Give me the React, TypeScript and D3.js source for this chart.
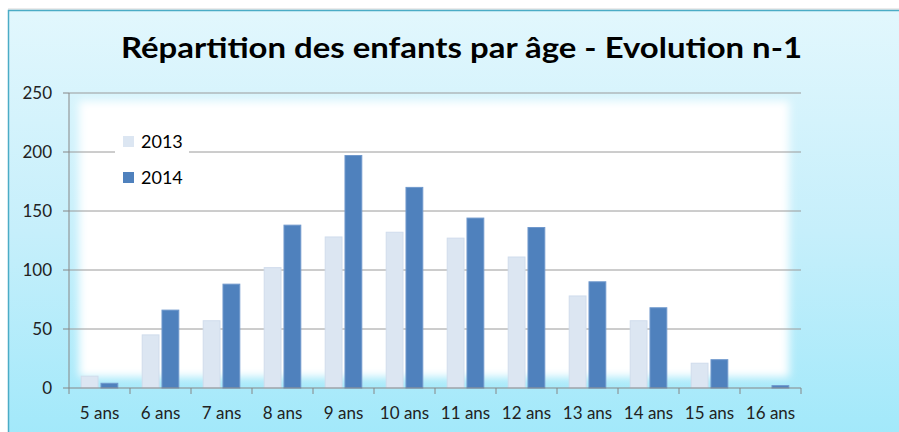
import React from "react";
import * as d3 from "d3";

const categories = ["5 ans", "6 ans", "7 ans", "8 ans", "9 ans", "10 ans", "11 ans", "12 ans", "13 ans", "14 ans", "15 ans", "16 ans"];
const seriesNames = ["2013", "2014"];
const values2013 = [10, 45, 57, 102, 128, 132, 127, 111, 78, 57, 21, 0];
const values2014 = [4, 66, 88, 138, 197, 170, 144, 136, 90, 68, 24, 2];
const yTicks = [0, 50, 100, 150, 200, 250];
const title = "Répartition des enfants par âge - Evolution n-1";

const colors = ["#dce6f2", "#4f81bd"];
const strokes = ["#d0dcec", "#6f98cc"];
const FONT = "Lato, 'Open Sans', sans-serif";

export default function App() {
  const W = 899, H = 432;
  const left = 69, right = 801, top = 93, bottom = 388;
  const x0 = d3.scaleBand<string>().domain(categories).range([left, right]).padding(0);
  const bw = x0.bandwidth();
  const inner = bw * 0.6;
  const x1 = d3.scaleBand<string>().domain(seriesNames).range([(bw - inner) / 2, (bw + inner) / 2]).paddingInner(0.15);
  const y = d3.scaleLinear().domain([0, 250]).range([bottom, top]);
  const data = [values2013, values2014];

  return (
    <svg width={W} height={H} style={{ position: "absolute", left: 0, top: 0, display: "block" }}>
      <defs>
        <linearGradient id="bg" x1="0" y1="0" x2="0" y2="1">
          <stop offset="0" stopColor="#e2f7fd" />
          <stop offset="0.5" stopColor="#c6effb" />
          <stop offset="1" stopColor="#9fe8fa" />
        </linearGradient>
        <filter id="blur" x="-10%" y="-10%" width="120%" height="120%">
          <feGaussianBlur stdDeviation="4" />
        </filter>
      </defs>
      <rect x={0} y={0} width={W} height={H} fill="#ffffff" />
      <line x1={8} x2={W} y1={9} y2={9} stroke="#d6d6d6" strokeWidth={1} />
      <rect x={8.5} y={10.5} width={W + 10} height={H + 10} fill="url(#bg)" stroke="#4bacc6" strokeWidth={1.5} />
      <rect x={79} y={101} width={710} height={276} fill="#ffffff" filter="url(#blur)" />

      <text x={461.5} y={58} textAnchor="middle" fontFamily={FONT} fontWeight="bold" fontSize={28} fill="#000" textLength={681} lengthAdjust="spacingAndGlyphs">{title}</text>

      {yTicks.map((t) => (
        <g key={t}>
          {t > 0 && <line x1={left} x2={right} y1={y(t)} y2={y(t)} stroke="#9a9a9a" strokeWidth={1} />}
          <line x1={63} x2={left} y1={y(t)} y2={y(t)} stroke="#868686" strokeWidth={1} />
          <text x={52} y={y(t)} dy="0.35em" textAnchor="end" fontFamily={FONT} fontSize={17} fill="#222">{t}</text>
        </g>
      ))}

      <rect x={115} y={127} width={74} height={66} fill="#ffffff" />
      {seriesNames.map((s, i) => (
        <g key={s}>
          <rect x={123} y={136 + i * 36} width={11} height={11} fill={colors[i]} />
          <text x={141} y={148 + i * 35.5} fontFamily={FONT} fontSize={18} fill="#000">{s}</text>
        </g>
      ))}

      {categories.map((c, ci) => (
        <g key={c} transform={`translate(${x0(c)},0)`}>
          {seriesNames.map((s, si) => {
            const v = data[si][ci];
            if (v <= 0) return null;
            return (
              <rect key={s} x={x1(s)!} y={y(v)} width={x1.bandwidth()} height={y(0) - y(v)} fill={colors[si]} stroke={strokes[si]} strokeWidth={1} />
            );
          })}
          <text x={bw / 2} y={419} textAnchor="middle" fontFamily={FONT} fontSize={17} fill="#222">{c}</text>
        </g>
      ))}

      <line x1={left} x2={left} y1={top} y2={bottom} stroke="#868686" strokeWidth={1} />
      <line x1={left} x2={right} y1={bottom} y2={bottom} stroke="#868686" strokeWidth={1} />
      {[...categories.map((c) => x0(c)!), right].map((tx, i) => (
        <line key={i} x1={tx} x2={tx} y1={bottom} y2={bottom + 6} stroke="#868686" strokeWidth={1} />
      ))}
    </svg>
  );
}
